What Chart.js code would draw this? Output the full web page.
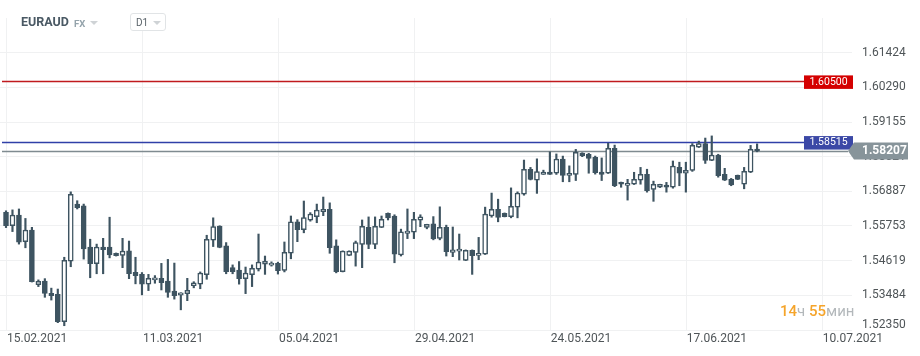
<!DOCTYPE html>
<html>
<head>
<meta charset="utf-8">
<script src="https://cdn.jsdelivr.net/npm/chart.js@4.4.1/dist/chart.umd.min.js"></script>
<style>
html,body{margin:0;padding:0;background:#fff;}
#wrap{position:relative;width:920px;height:356px;overflow:hidden;font-family:Roboto,"Noto Sans",sans-serif;}
#c{position:absolute;left:0;top:0;}
.hd{position:absolute;line-height:1;white-space:nowrap;}
#sym{left:21px;top:16px;font-size:12.5px;font-weight:700;color:#4a5964;}
#mkt{left:74px;top:19px;font-size:9.5px;font-weight:700;color:#94a3ab;}
.tri{position:absolute;width:0;height:0;border-left:4px solid transparent;border-right:4px solid transparent;border-top:4px solid #cfd3d6;}
#tf{position:absolute;left:130px;top:13px;width:34px;height:16px;border:1px solid #e1e4e6;border-radius:3px;background:#fff;}
#tft{left:136px;top:18px;font-size:10px;color:#5a6369;}
#cd{left:780px;top:304px;font-size:15px;line-height:15px;}
#cd .o{color:#f5a42a;font-weight:500;}
#cd .g{color:#b3b8bb;}
</style>
</head>
<body>
<div id="wrap">
<canvas id="c" width="920" height="356"></canvas>
<div class="hd" id="sym">EURAUD</div>
<div class="hd" id="mkt">FX</div>
<div class="tri" style="left:90px;top:21px;"></div>
<div id="tf"></div>
<div class="hd" id="tft">D1</div>
<div class="tri" style="left:153px;top:21px;"></div>
<div class="hd" id="cd"><span class="o">14</span><span class="g">ч </span><span class="o">55</span><span class="g">мин</span></div>
</div>
<script>
// ---- data (EURAUD, D1) ----
const opens  = [1.5620,1.5576,1.5611,1.5524,1.5562,1.5383,1.5395,1.5355,1.5352,1.5262,
                1.5460,1.5647,1.5641,1.5506,1.5452,1.5506,1.5506,1.5486,1.5479,1.5494,
                1.5424,1.5417,1.5385,1.5399,1.5404,1.5395,1.5362,1.5349,1.5354,1.5380,
                1.5385,1.5416,1.5529,1.5575,1.5510,1.5439,1.5431,1.5403,1.5416,1.5434,
                1.5450,1.5447,1.5453,1.5430,1.5486,1.5589,1.5563,1.5594,1.5606,1.5622,
                1.5630,1.5510,1.5426,1.5479,1.5489,1.5515,1.5571,1.5515,1.5571,1.5617,
                1.5608,1.5481,1.5551,1.5555,1.5594,1.5571,1.5582,1.5535,1.5571,1.5489,
                1.5493,1.5463,1.5496,1.5479,1.5483,1.5608,1.5630,1.5617,1.5606,1.5637,
                1.5679,1.5761,1.5725,1.5744,1.5752,1.5748,1.5794,1.5741,1.5744,1.5814,
                1.5810,1.5800,1.5752,1.5748,1.5829,1.5718,1.5708,1.5712,1.5725,1.5744,
                1.5695,1.5702,1.5709,1.5702,1.5767,1.5748,1.5757,1.5833,1.5845,1.5790,
                1.5807,1.5744,1.5728,1.5741,1.5712,1.5751,1.5827];
const highs  = [1.5625,1.5628,1.5631,1.5600,1.5571,1.5399,1.5403,1.5372,1.5369,1.5473,
                1.5687,1.5658,1.5647,1.5532,1.5516,1.5535,1.5604,1.5487,1.5535,1.5526,
                1.5473,1.5423,1.5417,1.5413,1.5453,1.5466,1.5454,1.5357,1.5404,1.5393,
                1.5425,1.5545,1.5602,1.5576,1.5521,1.5448,1.5459,1.5441,1.5448,1.5549,
                1.5477,1.5458,1.5457,1.5523,1.5608,1.5596,1.5657,1.5619,1.5647,1.5670,
                1.5651,1.5530,1.5494,1.5494,1.5526,1.5595,1.5605,1.5605,1.5608,1.5618,
                1.5612,1.5565,1.5631,1.5620,1.5612,1.5581,1.5606,1.5638,1.5578,1.5572,
                1.5549,1.5497,1.5497,1.5538,1.5637,1.5683,1.5663,1.5618,1.5700,1.5687,
                1.5791,1.5767,1.5795,1.5758,1.5818,1.5811,1.5804,1.5772,1.5826,1.5815,
                1.5813,1.5804,1.5798,1.5846,1.5840,1.5719,1.5728,1.5751,1.5767,1.5761,
                1.5722,1.5712,1.5718,1.5788,1.5784,1.5784,1.5845,1.5853,1.5863,1.5870,
                1.5810,1.5764,1.5731,1.5742,1.5767,1.5839,1.5844];
const lows   = [1.5570,1.5557,1.5516,1.5504,1.5392,1.5377,1.5342,1.5333,1.5259,1.5249,
                1.5442,1.5631,1.5467,1.5406,1.5419,1.5419,1.5471,1.5477,1.5439,1.5403,
                1.5386,1.5350,1.5364,1.5388,1.5366,1.5342,1.5336,1.5301,1.5331,1.5373,
                1.5370,1.5401,1.5508,1.5504,1.5419,1.5419,1.5385,1.5354,1.5377,1.5428,
                1.5417,1.5444,1.5418,1.5425,1.5468,1.5524,1.5553,1.5591,1.5586,1.5609,
                1.5486,1.5422,1.5425,1.5478,1.5444,1.5439,1.5501,1.5501,1.5570,1.5595,
                1.5455,1.5477,1.5534,1.5534,1.5573,1.5566,1.5530,1.5530,1.5477,1.5475,
                1.5464,1.5462,1.5417,1.5465,1.5482,1.5604,1.5589,1.5605,1.5602,1.5602,
                1.5676,1.5726,1.5682,1.5744,1.5744,1.5744,1.5720,1.5720,1.5724,1.5802,
                1.5748,1.5745,1.5724,1.5747,1.5704,1.5702,1.5660,1.5711,1.5712,1.5686,
                1.5656,1.5701,1.5686,1.5699,1.5707,1.5686,1.5754,1.5832,1.5780,1.5789,
                1.5735,1.5724,1.5707,1.5727,1.5697,1.5750,1.5818];
const closes = [1.5576,1.5611,1.5522,1.5562,1.5393,1.5394,1.5355,1.5347,1.5262,1.5463,
                1.5679,1.5635,1.5500,1.5452,1.5506,1.5498,1.5481,1.5478,1.5493,1.5419,
                1.5413,1.5385,1.5404,1.5405,1.5390,1.5358,1.5347,1.5357,1.5365,1.5389,
                1.5421,1.5532,1.5573,1.5505,1.5426,1.5426,1.5403,1.5421,1.5437,1.5457,
                1.5460,1.5453,1.5429,1.5489,1.5589,1.5563,1.5603,1.5614,1.5627,1.5630,
                1.5504,1.5426,1.5493,1.5493,1.5521,1.5574,1.5515,1.5574,1.5597,1.5602,
                1.5483,1.5556,1.5559,1.5597,1.5605,1.5581,1.5533,1.5571,1.5491,1.5497,
                1.5499,1.5496,1.5478,1.5486,1.5614,1.5630,1.5603,1.5606,1.5640,1.5683,
                1.5761,1.5728,1.5753,1.5752,1.5744,1.5794,1.5741,1.5748,1.5816,1.5805,
                1.5796,1.5750,1.5744,1.5829,1.5707,1.5712,1.5715,1.5728,1.5744,1.5691,
                1.5712,1.5712,1.5702,1.5771,1.5748,1.5757,1.5839,1.5845,1.5790,1.5807,
                1.5740,1.5725,1.5710,1.5728,1.5754,1.5826,1.58207];

const xTickIndex  = [0, 21, 42, 63, 84, 105, 126];
const xTickLabels = ['15.02.2021','11.03.2021','05.04.2021','29.04.2021','24.05.2021','17.06.2021','10.07.2021'];
const yTickValues = [1.52350,1.53484,1.54619,1.55753,1.56887,1.58021,1.59155,1.60290,1.61424];
const yTickLabels = ['1.52350','1.53484','1.54619','1.55753','1.56887','1.58021','1.59155','1.60290','1.61424'];
const levelValues = [1.60500, 1.58515];
const levelLabels = ['1.60500', '1.58515'];
const levelColors = ['#c01a1e', '#3040a8'];
const levelBoxColors = ['#d40000', '#3b48a6'];

// ---- styles ----
const CANDLE = '#3e5461';
const GRID = '#f0f1f2';
const FONT = 'Roboto';

const bodies = opens.map((o, i) => ({x: i, y: [o, closes[i]]}));
const wicks  = lows.map((l, i) => ({x: i, y: [l, highs[i]]}));
const bodyFill = opens.map((o, i) => closes[i] >= o ? '#ffffff' : CANDLE);
const lastPrice = closes[closes.length - 1];
const lastLabel = lastPrice.toFixed(5);

const priceLines = {
  id: 'priceLines',
  beforeDatasetsDraw(chart) {
    const {ctx, chartArea: a, scales: {y}} = chart;
    ctx.save();
    ctx.lineWidth = 1.3;
    levelValues.forEach((v, k) => {
      const py = Math.round(y.getPixelForValue(v)) + 0.5;
      ctx.strokeStyle = levelColors[k];
      ctx.beginPath(); ctx.moveTo(a.left + 2, py); ctx.lineTo(a.right - 48, py); ctx.stroke();
    });
    const cy = Math.round(y.getPixelForValue(lastPrice)) + 0.5;
    ctx.strokeStyle = '#7f8b90';
    ctx.lineWidth = 1.3;
    ctx.beginPath(); ctx.moveTo(a.left + 2, cy); ctx.lineTo(a.right - 4, cy); ctx.stroke();
    ctx.restore();
  },
  afterDraw(chart) {
    const {ctx, chartArea: a, scales: {y}} = chart;
    ctx.save();
    ctx.textBaseline = 'middle';
    levelValues.forEach((v, k) => {
      const py = y.getPixelForValue(v);
      ctx.fillStyle = levelBoxColors[k];
      ctx.fillRect(a.right - 48, py - 5.5, 49, 13.5);
      ctx.fillStyle = '#ffffff';
      ctx.font = '10.5px ' + FONT;
      ctx.textAlign = 'center';
      ctx.fillText(levelLabels[k], a.right - 23.5, py + 1.3);
    });
    const cy = y.getPixelForValue(lastPrice);
    ctx.fillStyle = '#87949a';
    ctx.beginPath();
    ctx.moveTo(a.right - 4, cy);
    ctx.lineTo(a.right + 2, cy - 8.5);
    ctx.lineTo(a.right + 56, cy - 8.5);
    ctx.lineTo(a.right + 56, cy + 8.5);
    ctx.lineTo(a.right + 2, cy + 8.5);
    ctx.closePath();
    ctx.fill();
    ctx.fillStyle = '#ffffff';
    ctx.font = 'bold 12px ' + FONT;
    ctx.textAlign = 'left';
    ctx.fillText(lastLabel, a.right + 10, cy + 0.5);
    ctx.restore();
  }
};

new Chart(document.getElementById('c'), {
  type: 'bar',
  data: {
    datasets: [
      {
        data: bodies,
        backgroundColor: bodyFill,
        borderColor: CANDLE,
        borderWidth: 1.5,
        borderSkipped: false,
        barThickness: 5,
        minBarLength: 2,
        grouped: false
      },
      {
        data: wicks,
        backgroundColor: CANDLE,
        borderWidth: 0,
        barThickness: 1.5,
        grouped: false
      }
    ]
  },
  options: {
    responsive: false,
    animation: false,
    devicePixelRatio: 1,
    layout: {padding: {top: 18, left: 0, right: 0, bottom: 0}},
    plugins: {legend: {display: false}, tooltip: {enabled: false}},
    scales: {
      x: {
        type: 'linear',
        offset: false,
        min: -0.927,
        max: 130.66,
        afterBuildTicks: s => { s.ticks = xTickIndex.map(v => ({value: v + 0.15})); },
        afterFit: s => { s.height = 26; },
        ticks: {
          autoSkip: false, maxRotation: 0, minRotation: 0, align: 'start', padding: 2,
          color: '#4f5558', font: {family: FONT, size: 12},
          callback: (v, i) => xTickLabels[i]
        },
        grid: {color: GRID, drawTicks: false, offset: false},
        border: {display: false}
      },
      y: {
        position: 'right',
        min: 1.52350,
        max: 1.62558,
        afterBuildTicks: s => { s.ticks = yTickValues.map(v => ({value: v})); },
        afterFit: s => { s.width = 68; },
        ticks: {
          padding: 10, color: '#4f5558',
          font: ctx => ctx.index === 0 ? {family: FONT, size: 12, lineHeight: 0.85} : {family: FONT, size: 12},
          callback: (v, i) => i === 0 ? [yTickLabels[i], ''] : yTickLabels[i]
        },
        grid: {color: GRID, drawTicks: false},
        border: {display: false}
      }
    }
  },
  plugins: [priceLines]
});
</script>
</body>
</html>
